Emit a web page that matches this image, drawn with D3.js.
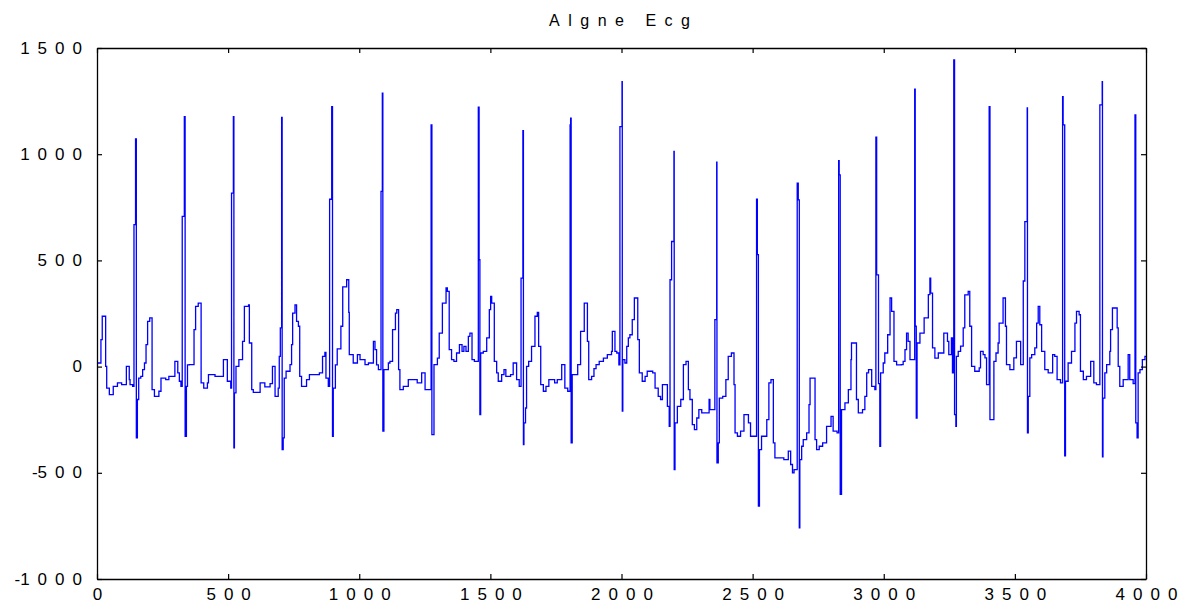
<!DOCTYPE html>
<html>
<head>
<meta charset="utf-8">
<script src="https://cdn.jsdelivr.net/npm/d3@7"></script>
<style>
  html, body { margin: 0; padding: 0; background: #fff; }
  svg { display: block; }
  text { font-family: "Liberation Sans", Arial, Helvetica, sans-serif; fill: #000; }
</style>
</head>
<body>
<svg id="chart" width="1179" height="606"></svg>
<script>
// ECG trace: [sample index, amplitude] pairs, held until the next sample
const chartTitle = "Algne Ecg";
const xTicks = [0, 500, 1000, 1500, 2000, 2500, 3000, 3500, 4000];
const yTicks = [-1000, -500, 0, 500, 1000, 1500];

const ecgPart1 = [
  [0,17],[15,127],[20,237],[33,1],[37,-101],[47,-132],[62,-93],[78,-77],[94,-85],[112,1],[123,-61],[126,-85],[136,-93],
  [141,668],[147,1072],[150,-336],[154,-155],[159,-54],[167,-46],[174,-14],[181,17],[187,103],[193,213],[201,229],
  [210,-108],[219,-140],[236,-116],[244,-54],[262,-61],[274,-46],[286,-46],[297,25],[308,-30],[314,-69],[320,-93],
  [325,707],[333,1177],[336,-328],[341,-93],[345,8],[352,9],[370,174],[376,284],[386,299],[397,-77],[407,-101],
  [421,-77],[425,-38],[450,-46],[482,33],[497,-69],[510,-101]
];
const ecgPart2 = [
  [513,817],[520,1177],[522,-383],[524,-124],[530,1],[541,33],[555,119],[562,284],[578,291],[581,111],[590,-108],
  [596,-121],[622,-77],[640,-95],[660,-80],[669,1],[679,-140],[691,-101],[695,48],[699,182],[704,1173],[706,-391],
  [710,-336],[714,-54],[721,-22],[736,9],[742,103],[746,252],[755,291],[761,213],[768,190],[773,-46],[780,-93],
  [799,-61],[810,-38],[848,-30],[860,48],[869,67],[873,-54],[882,-93],[887,788],[895,1224],[898,-328],[901,-101],
  [909,8],[916,83],[930,190],[937,375],[952,409],[960,255],[962,56],[977,17],[993,56],[1003,33],[1022,9],[1035,17],
  [1054,119],[1060,80],[1066,8],[1073,-14]
];
const ecgPart3 = [
  [1083,825],[1088,1287],[1090,-304],[1094,-14],[1111,17],[1117,25],[1127,174],[1138,252],[1143,268],[1150,-14],
  [1155,-108],[1168,-93],[1187,-61],[1221,-77],[1238,-30],[1251,-108],[1274,1138],[1277,-320],[1285,9],[1298,40],
  [1305,158],[1317,299],[1331,370],[1336,354],[1343,80],[1352,33],[1361,25],[1371,64],[1382,103],[1392,72],[1399,95],
  [1407,72],[1416,142],[1422,158],[1430,33],[1439,25],[1454,1221],[1457,503],[1460,-226],[1463,64],[1473,72],
  [1486,135],[1496,268],[1501,331],[1505,299],[1515,25],[1524,-30],[1530,-69],[1543,-38],[1552,-14],[1559,-46],
  [1577,-38],[1587,17],[1600,-61],[1610,-93]
];
const ecgPart4 = [
  [1617,417],[1624,1111],[1626,-367],[1628,-265],[1634,-195],[1638,1],[1646,25],[1657,95],[1670,237],[1679,255],
  [1684,95],[1692,-85],[1702,-116],[1712,-93],[1723,-61],[1745,-77],[1755,-61],[1772,9],[1784,-101],[1795,-116],
  [1804,1138],[1806,1170],[1808,-359],[1812,-38],[1833,9],[1844,166],[1858,299],[1870,119],[1875,-61],[1886,-46],
  [1895,-10],[1903,9],[1915,25],[1931,40],[1946,56],[1962,72],[1965,166],[1975,72],[1982,64],[1990,8],[1994,1130],
  [2002,1342],[2003,-210],[2005,33],[2013,17],[2020,95],[2026,135],[2032,150],[2041,221],[2049,323],[2062,127],
  [2068,-30],[2079,-69],[2090,-46],[2098,-22],[2119,-30],[2128,-101],[2140,-140],[2149,-155],[2156,-85],[2175,-187]
];
const ecgPart5 = [
  [2182,-281],[2185,409],[2191,589],[2200,1013],[2201,-485],[2204,-265],[2213,-187],[2226,-155],[2236,9],[2246,25],
  [2255,-108],[2261,-155],[2270,-273],[2278,-297],[2287,-242],[2295,-203],[2306,-218],[2334,-155],[2337,-203],
  [2356,221],[2363,962],[2364,-453],[2369,-359],[2373,-148],[2386,-140],[2398,-61],[2407,48],[2419,64],[2429,-85],
  [2433,-312],[2442,-328],[2454,-304],[2467,-226],[2484,-265],[2492,-328],[2515,788],[2518,527],[2522,-657],
  [2526,-391],[2534,-328],[2554,-250],[2562,-77],[2570,-61],[2579,-359],[2585,-430],[2619,-438],[2636,-398],
  [2645,-461],[2652,-500],[2658,-485],[2670,864],[2674,785],[2678,-759],[2680,-438],[2687,-375],[2693,-344],
  [2706,-312],[2715,-179],[2719,-54],[2738,-344],[2744,-391],[2754,-375],[2767,-359],[2782,-281],[2799,-234],
  [2807,-304],[2822,-312]
];
const ecgPart6 = [
  [2828,970],[2830,903],[2834,-602],[2839,-203],[2852,-171],[2865,-108],[2875,33],[2877,111],[2896,-155],[2903,-218],
  [2919,-203],[2928,-140],[2935,-30],[2942,-14],[2954,-93],[2966,-108],[2970,1080],[2973,432],[2980,-80],[2985,-375],
  [2988,-30],[2998,17],[3004,64],[3015,150],[3024,323],[3030,260],[3039,25],[3049,8],[3067,9],[3074,25],[3081,80],
  [3087,158],[3093,119],[3100,33],[3118,1306],[3120,190],[3124,-242],[3127,111],[3138,158],[3154,229],[3170,339],
  [3176,417],[3179,346],[3186,88],[3195,40],[3208,64],[3229,158],[3243,119],[3248,56],[3258,135],[3262,-30],
  [3267,1444],[3270,-226],[3275,-281],[3277,48],[3284,72],[3293,96],[3303,182],[3309,338],[3322,354],[3328,190],
  [3335,1],[3347,-22],[3364,-6],[3369,72],[3379,56],[3386,41],[3392,-85]
];
const ecgPart7 = [
  [3402,1224],[3405,-250],[3420,25],[3428,64],[3436,111],[3440,205],[3455,323],[3464,190],[3468,9],[3481,-14],
  [3496,41],[3506,119],[3522,9],[3532,403],[3538,683],[3547,1218],[3548,-312],[3551,-140],[3557,41],[3564,56],
  [3576,88],[3583,205],[3589,284],[3595,197],[3602,72],[3614,-14],[3627,-30],[3644,56],[3652,48],[3661,-61],
  [3674,-77],[3682,1271],[3684,1138],[3690,-420],[3693,-69],[3703,17],[3716,72],[3729,205],[3735,260],[3745,244],
  [3750,-22],[3761,-61],[3773,-46],[3789,25],[3801,-77],[3811,-85],[3824,1232],[3833,1342],[3834,-425],[3836,-148],
  [3843,-30],[3850,9],[3862,72],[3865,174],[3872,276],[3890,182],[3894,1],[3900,-93],[3913,-61],[3932,56],
  [3938,-61],[3951,-80],[3958,1185],[3961,-265],[3966,-336],[3970,-30],[3977,-14],[3986,33],[3996,48],[4000,48]
];

const ecg = [].concat(ecgPart1, ecgPart2, ecgPart3, ecgPart4, ecgPart5, ecgPart6, ecgPart7);

const W = 1179, H = 606;
const margin = { top: 48, right: 33, bottom: 27, left: 97 };
const LABEL_SIZE = 17;
const LABEL_GAP = 8;   // extra space between characters of tick labels
const TITLE_SIZE = 16;
const TITLE_GAP = 8.5;

const svg = d3.select("#chart");

const x = d3.scaleLinear().domain([0, 4000]).range([margin.left, W - margin.right]);
const y = d3.scaleLinear().domain([-1000, 1500]).range([H - margin.bottom, margin.top]);

// plain integer labels with an ASCII hyphen for negatives
const intLabel = d => String(Math.round(d));

// write a string as one tspan per character so the gaps do not trail the last glyph;
// a leading minus sign sits tight against the first digit
function spaced(sel, gap) {
  sel.each(function () {
    const t = d3.select(this);
    const chars = Array.from(t.text());
    t.text(null);
    chars.forEach((ch, i) => {
      const tight = i === 0 || chars[i - 1] === "-";
      t.append("tspan").attr("dx", tight ? 0 : gap).text(ch);
    });
  });
}

// clip the trace to the plot box
svg.append("clipPath").attr("id", "plotClip")
  .append("rect")
  .attr("x", margin.left).attr("y", margin.top)
  .attr("width", W - margin.left - margin.right)
  .attr("height", H - margin.top - margin.bottom);

const line = d3.line()
  .x(d => x(d[0]))
  .y(d => y(d[1]))
  .curve(d3.curveStepAfter);

svg.append("path")
  .datum(ecg)
  .attr("clip-path", "url(#plotClip)")
  .attr("fill", "none")
  .attr("stroke", "#0000ff")
  .attr("stroke-width", 1.3)
  .attr("d", line);

// inward ticks on all four sides
const tick = 5;
const gBottom = svg.append("g")
  .attr("transform", `translate(0,${H - margin.bottom})`)
  .call(d3.axisBottom(x).tickValues(xTicks).tickSizeInner(-tick).tickSizeOuter(0).tickFormat(intLabel));
gBottom.selectAll("text")
  .attr("y", 21).attr("dy", 0)
  .style("font-size", LABEL_SIZE + "px")
  .call(spaced, LABEL_GAP);

const gLeft = svg.append("g")
  .attr("transform", `translate(${margin.left},0)`)
  .call(d3.axisLeft(y).tickValues(yTicks).tickSizeInner(-tick).tickSizeOuter(0).tickFormat(intLabel));
gLeft.selectAll("text")
  .attr("x", -15)
  .attr("dy", "0.3em")
  .style("font-size", LABEL_SIZE + "px")
  .call(spaced, LABEL_GAP);

svg.append("g")
  .attr("transform", `translate(0,${margin.top})`)
  .call(d3.axisTop(x).tickValues(xTicks).tickSizeInner(-tick).tickSizeOuter(0).tickFormat(""));
svg.append("g")
  .attr("transform", `translate(${W - margin.right},0)`)
  .call(d3.axisRight(y).tickValues(yTicks).tickSizeInner(-tick).tickSizeOuter(0).tickFormat(""));

svg.selectAll(".tick line").attr("stroke", "#000").attr("stroke-width", 1.2);
svg.selectAll(".domain").attr("stroke", "#000").attr("stroke-width", 1.3);

// title
svg.append("text")
  .attr("x", (x(0) + x(4000)) / 2 - 2)
  .attr("y", 26)
  .attr("text-anchor", "middle")
  .style("font-size", TITLE_SIZE + "px")
  .text(chartTitle)
  .call(spaced, TITLE_GAP);
</script>
</body>
</html>
